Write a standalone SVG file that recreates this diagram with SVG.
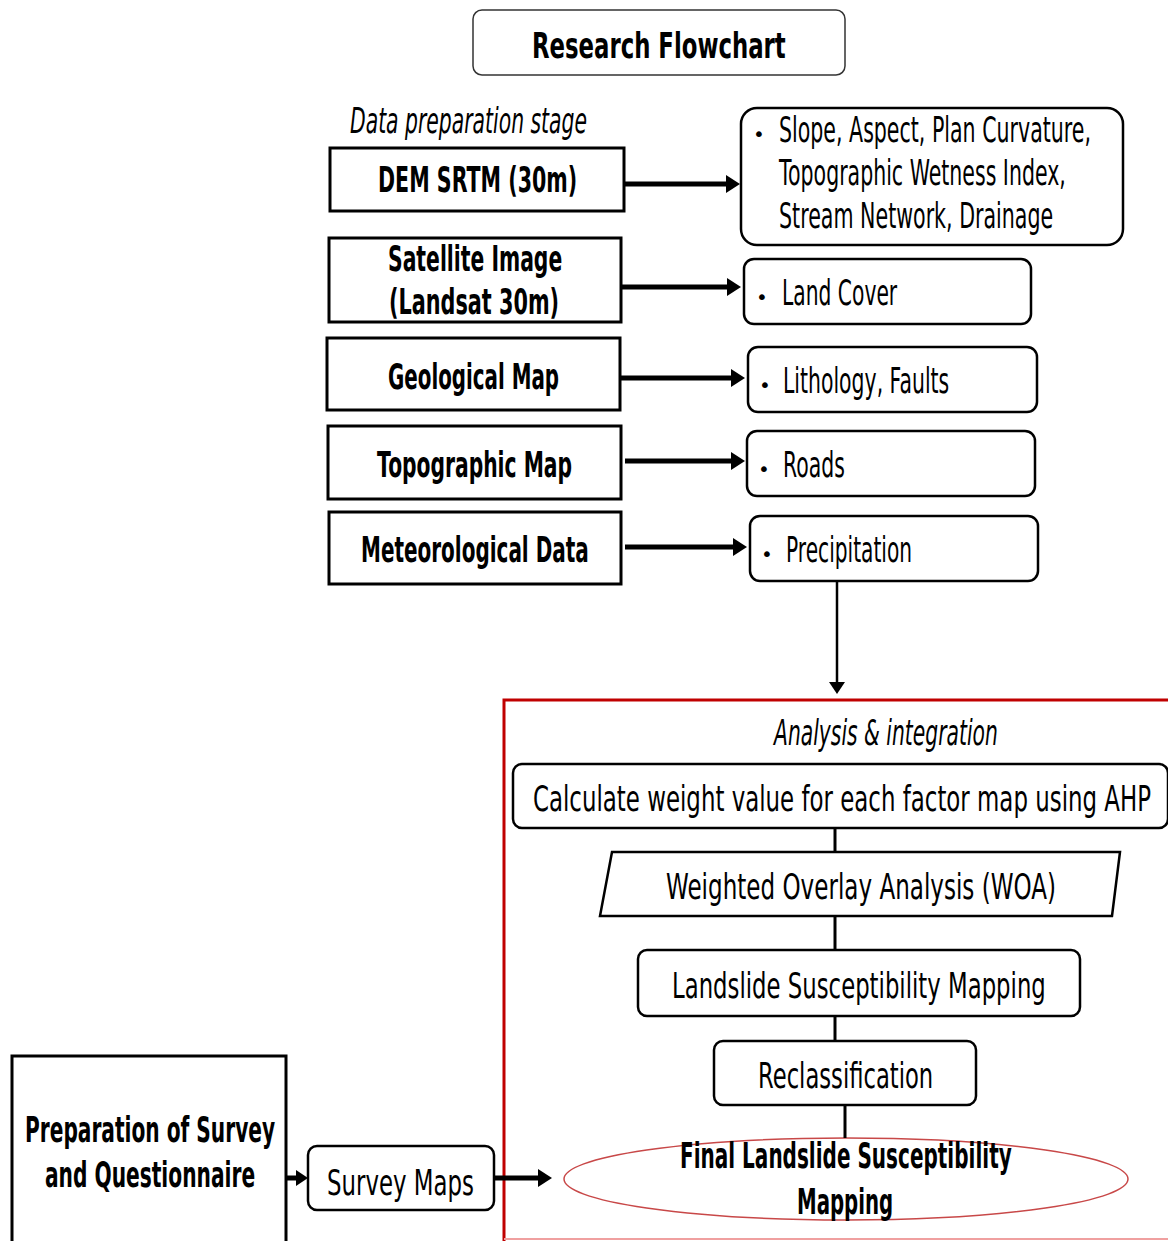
<svg xmlns="http://www.w3.org/2000/svg" width="1168" height="1241" viewBox="0 0 1168 1241">
<style>
.t{font-family:"DejaVu Sans","Liberation Sans",sans-serif;font-size:36px;fill:#000}
.b{font-weight:bold}
.i{font-style:italic}
.bu{font-family:"DejaVu Sans","Liberation Sans",sans-serif;font-size:20px;fill:#000}
.box{fill:#fff;stroke:#000;stroke-width:3}
.rbox{fill:#fff;stroke:#000;stroke-width:2.5}
.ar{stroke:#000;stroke-width:5;fill:none}
.ln{stroke:#000;stroke-width:3;fill:none}
</style>
<defs>
<marker id="ah" markerUnits="userSpaceOnUse" markerWidth="14" markerHeight="18" refX="2" refY="9" orient="auto">
<path d="M0,0 L14,9 L0,18 z" fill="#000"/>
</marker>
<marker id="ah2" markerUnits="userSpaceOnUse" markerWidth="12" markerHeight="16" refX="2" refY="8" orient="auto">
<path d="M0,0 L12,8 L0,16 z" fill="#000"/>
</marker>
</defs>
<rect width="1168" height="1241" fill="#fff"/>

<g id="title">
<rect x="473" y="10" width="372" height="65" rx="9" fill="#fff" stroke="#333" stroke-width="1.5"/>
<text class="t b" font-size="43" transform="translate(532,58) scale(0.52,1)" textLength="488" lengthAdjust="spacingAndGlyphs">Research Flowchart</text>
</g>

<g id="stage-label">
<text class="t i" transform="translate(350,133) scale(0.6,1)" textLength="395" lengthAdjust="spacingAndGlyphs">Data preparation stage</text>
</g>

<g id="dem">
<rect class="box" x="330" y="148" width="294" height="63"/>
<text class="t b" transform="translate(378,192) scale(0.52,1)" textLength="383" lengthAdjust="spacingAndGlyphs">DEM SRTM (30m)</text>
</g>
<g id="dem-out">
<rect class="rbox" x="741" y="108" width="382" height="137" rx="16"/>
<text class="bu" x="753" y="141">•</text>
<text class="t" transform="translate(779,142) scale(0.6,1)" textLength="520" lengthAdjust="spacingAndGlyphs">Slope, Aspect, Plan Curvature,</text>
<text class="t" transform="translate(779,185) scale(0.6,1)" textLength="478" lengthAdjust="spacingAndGlyphs">Topographic Wetness Index,</text>
<text class="t" transform="translate(779,228) scale(0.6,1)" textLength="457" lengthAdjust="spacingAndGlyphs">Stream Network, Drainage</text>
</g>

<g id="sat">
<rect class="box" x="329" y="238" width="292" height="84"/>
<text class="t b" transform="translate(388,271) scale(0.52,1)" textLength="335" lengthAdjust="spacingAndGlyphs">Satellite Image</text>
<text class="t b" transform="translate(389,314) scale(0.52,1)" textLength="327" lengthAdjust="spacingAndGlyphs">(Landsat 30m)</text>
</g>
<g id="sat-out">
<rect class="rbox" x="744" y="259" width="287" height="65" rx="10"/>
<text class="bu" x="756" y="304">•</text>
<text class="t" transform="translate(782,305) scale(0.6,1)" textLength="192" lengthAdjust="spacingAndGlyphs">Land Cover</text>
</g>

<g id="geo">
<rect class="box" x="327" y="338" width="293" height="72"/>
<text class="t b" transform="translate(388,389) scale(0.52,1)" textLength="329" lengthAdjust="spacingAndGlyphs">Geological Map</text>
</g>
<g id="geo-out">
<rect class="rbox" x="748" y="347" width="289" height="65" rx="10"/>
<text class="bu" x="759" y="392">•</text>
<text class="t" transform="translate(783,393) scale(0.6,1)" textLength="277" lengthAdjust="spacingAndGlyphs">Lithology, Faults</text>
</g>

<g id="topo">
<rect class="box" x="328" y="426" width="293" height="73"/>
<text class="t b" transform="translate(377,477) scale(0.52,1)" textLength="375" lengthAdjust="spacingAndGlyphs">Topographic Map</text>
</g>
<g id="topo-out">
<rect class="rbox" x="747" y="431" width="288" height="65" rx="10"/>
<text class="bu" x="758" y="476">•</text>
<text class="t" transform="translate(783,477) scale(0.6,1)" textLength="103" lengthAdjust="spacingAndGlyphs">Roads</text>
</g>

<g id="met">
<rect class="box" x="329" y="512" width="292" height="72"/>
<text class="t b" transform="translate(361,562) scale(0.52,1)" textLength="438" lengthAdjust="spacingAndGlyphs">Meteorological Data</text>
</g>
<g id="met-out">
<rect class="rbox" x="750" y="516" width="288" height="65" rx="10"/>
<text class="bu" x="761" y="561">•</text>
<text class="t" transform="translate(786,562) scale(0.6,1)" textLength="210" lengthAdjust="spacingAndGlyphs">Precipitation</text>
</g>

<g id="analysis-frame">
<path d="M504,1241 L504,700 L1168,700" fill="none" stroke="#c00000" stroke-width="3"/>
<line x1="504" y1="1239" x2="1168" y2="1239" stroke="#f0a0a0" stroke-width="2"/>
<text class="t i" transform="translate(774,745) scale(0.6,1)" textLength="373" lengthAdjust="spacingAndGlyphs">Analysis &amp; integration</text>
</g>

<g id="ahp">
<rect class="rbox" x="513" y="764" width="655" height="64" rx="9"/>
<text class="t" transform="translate(533,811) scale(0.6,1)" textLength="1030" lengthAdjust="spacingAndGlyphs">Calculate weight value for each factor map using AHP</text>
</g>

<g id="woa">
<polygon points="612,852 1120,852 1112,916 600,916" fill="#fff" stroke="#000" stroke-width="2.5"/>
<text class="t" transform="translate(666,899) scale(0.6,1)" textLength="650" lengthAdjust="spacingAndGlyphs">Weighted Overlay Analysis (WOA)</text>
</g>

<g id="lsm">
<rect class="rbox" x="638" y="950" width="442" height="66" rx="9"/>
<text class="t" transform="translate(672,998) scale(0.6,1)" textLength="623" lengthAdjust="spacingAndGlyphs">Landslide Susceptibility Mapping</text>
</g>

<g id="reclass">
<rect class="rbox" x="714" y="1041" width="262" height="64" rx="9"/>
<text class="t" transform="translate(758,1088) scale(0.6,1)" textLength="292" lengthAdjust="spacingAndGlyphs">Reclassification</text>
</g>

<g id="final">
<ellipse cx="846" cy="1179" rx="282" ry="41" fill="#fff" stroke="#c84848" stroke-width="1.5"/>
<text class="t b" transform="translate(680,1168) scale(0.52,1)" textLength="638" lengthAdjust="spacingAndGlyphs">Final Landslide Susceptibility</text>
<text class="t b" transform="translate(797,1214) scale(0.52,1)" textLength="185" lengthAdjust="spacingAndGlyphs">Mapping</text>
</g>

<g id="prep">
<rect class="box" x="12" y="1056" width="274" height="190" stroke-width="2.5"/>
<text class="t b" transform="translate(25,1142) scale(0.52,1)" textLength="481" lengthAdjust="spacingAndGlyphs">Preparation of Survey</text>
<text class="t b" transform="translate(45,1187) scale(0.52,1)" textLength="404" lengthAdjust="spacingAndGlyphs">and Questionnaire</text>
</g>

<g id="survey">
<rect class="rbox" x="308" y="1146" width="186" height="64" rx="9"/>
<text class="t" transform="translate(327,1195) scale(0.6,1)" textLength="245" lengthAdjust="spacingAndGlyphs">Survey Maps</text>
</g>

<g id="connectors">
<line class="ar" x1="624" y1="184" x2="728" y2="184" marker-end="url(#ah)"/>
<line class="ar" x1="621" y1="287" x2="729" y2="287" marker-end="url(#ah)"/>
<line class="ar" x1="620" y1="378" x2="733" y2="378" marker-end="url(#ah)"/>
<line class="ar" x1="625" y1="461" x2="733" y2="461" marker-end="url(#ah)"/>
<line class="ar" x1="625" y1="547" x2="735" y2="547" marker-end="url(#ah)"/>
<line x1="837" y1="581" x2="837" y2="684" stroke="#000" stroke-width="2.5" marker-end="url(#ah2)"/>
<line class="ln" x1="835" y1="828" x2="835" y2="852"/>
<line class="ln" x1="835" y1="916" x2="835" y2="950"/>
<line class="ln" x1="835" y1="1016" x2="835" y2="1041"/>
<line class="ln" x1="845" y1="1105" x2="845" y2="1138"/>
<line class="ar" x1="287" y1="1178" x2="298" y2="1178" marker-end="url(#ah2)"/>
<line class="ar" x1="494" y1="1178" x2="540" y2="1178" marker-end="url(#ah)"/>
</g>
</svg>
